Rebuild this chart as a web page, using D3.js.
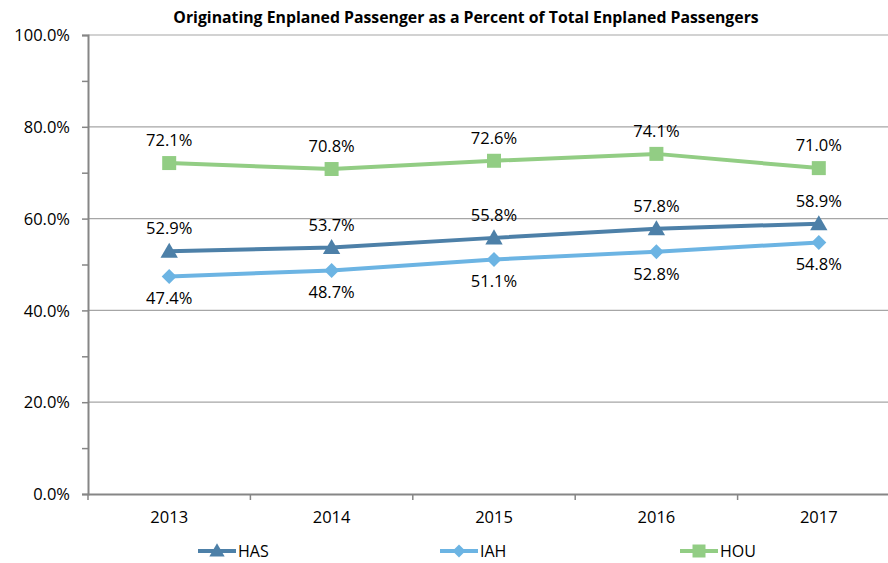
<!DOCTYPE html>
<html><head><meta charset="utf-8">
<script src="https://cdn.jsdelivr.net/npm/d3@7/dist/d3.min.js"></script>
<style>body{margin:0;background:#fff}svg{display:block}text{font-family:"Open Sans","Liberation Sans",sans-serif;fill:#000}</style>
</head><body><svg id="c" width="888" height="563"></svg>
<script>
const years = ["2013","2014","2015","2016","2017"];
const HAS = [52.9,53.7,55.8,57.8,58.9];
const IAH = [47.4,48.7,51.1,52.8,54.8];
const HOU = [72.1,70.8,72.6,74.1,71.0];
const yTicks = [0,20,40,60,80,100];
const title = "Originating Enplaned Passenger as a Percent of Total Enplaned Passengers";

const series = [
  {name:"HAS", values:HAS, color:"#4d80a8", marker:"triangle", labelPos:"above"},
  {name:"IAH", values:IAH, color:"#6cb4e3", marker:"diamond", labelPos:"below"},
  {name:"HOU", values:HOU, color:"#92cd84", marker:"square", labelPos:"above"}
];

const FONT = '"Open Sans",sans-serif';
const FS = "16.5px";
const svg = d3.select("#c");
const L=88, R=900, T=35, B=494;
const x = d3.scaleBand().domain(years).range([L,R]);
const y = d3.scaleLinear().domain([0,100]).range([B,T]);

// gridlines
svg.append("g").selectAll("line").data(yTicks.filter(d=>d>0)).join("line")
  .attr("x1",L).attr("x2",888).attr("y1",d=>y(d)).attr("y2",d=>y(d))
  .attr("stroke","#a6a6a6").attr("stroke-width",1.2);

// y axis
const ya = svg.append("g").attr("transform",`translate(${L},0)`)
  .call(d3.axisLeft(y).tickValues(d3.range(0,101,10)).tickSize(6).tickFormat(d=>d%20===0?d.toFixed(1)+"%":""));
ya.select(".domain").attr("stroke","#868686").attr("stroke-width",2);
ya.selectAll(".tick line").attr("stroke","#868686").attr("stroke-width",1.5);
ya.selectAll(".tick text").attr("x",-18).attr("dy","0.35em").style("font-size",FS).style("font-family",FONT);

// x axis
const xa = svg.append("g").attr("transform",`translate(0,${B})`)
  .call(d3.axisBottom(x).tickSize(0).tickPadding(17));
xa.select(".domain").attr("stroke","#868686").attr("stroke-width",2);
xa.selectAll(".tick text").style("font-size",FS).style("font-family",FONT);
svg.append("g").selectAll("line").data(d3.range(0,6)).join("line")
  .attr("x1",i=>L+i*x.step()).attr("x2",i=>L+i*x.step())
  .attr("y1",B).attr("y2",B+6).attr("stroke","#868686").attr("stroke-width",1.5);

// title
svg.append("text").attr("x",466).attr("y",23).attr("text-anchor","middle")
  .style("font-weight","bold").style("font-size","15.8px").text(title);

function markerPath(type, s){
  if(type==="triangle") return d3.symbol(d3.symbolTriangle, s*s*0.45)();
  if(type==="diamond") return `M0,${-s/2}L${s/2},0L0,${s/2}L${-s/2},0Z`;
  return `M${-s/2},${-s/2}h${s}v${s}h${-s}Z`;
}

const cx = d => x(d) + x.bandwidth()/2;
series.forEach(sr=>{
  const g = svg.append("g");
  g.append("path").datum(sr.values)
    .attr("fill","none").attr("stroke",sr.color).attr("stroke-width",4)
    .attr("d", d3.line().x((d,i)=>cx(years[i])).y(d=>y(d)));
  const size = sr.marker==="square"?14:(sr.marker==="diamond"?15:17);
  g.selectAll(".m").data(sr.values).join("path")
    .attr("transform",(d,i)=>`translate(${cx(years[i])},${y(d)+(sr.marker==="triangle"?1.5:0)})`)
    .attr("d", markerPath(sr.marker,size)).attr("fill",sr.color);
  g.selectAll(".l").data(sr.values).join("text")
    .attr("x",(d,i)=>cx(years[i]))
    .attr("y",d=> sr.labelPos==="above" ? y(d)-17 : y(d)+28)
    .attr("text-anchor","middle").style("font-size",FS)
    .text(d=>d.toFixed(1)+"%");
});

// legend
const legX = [198, 440, 680];
series.forEach((sr,i)=>{
  const g = svg.append("g").attr("transform",`translate(${legX[i]},551)`);
  g.append("line").attr("x1",0).attr("x2",38).attr("stroke",sr.color).attr("stroke-width",4);
  const size = sr.marker==="square"?13:(sr.marker==="diamond"?13:15);
  g.append("path").attr("transform",`translate(19,${sr.marker==="triangle"?1:0})`).attr("d",markerPath(sr.marker,size)).attr("fill",sr.color);
  g.append("text").attr("x",40).attr("y",6).style("font-size","16px").text(sr.name);
});
</script></body></html>
